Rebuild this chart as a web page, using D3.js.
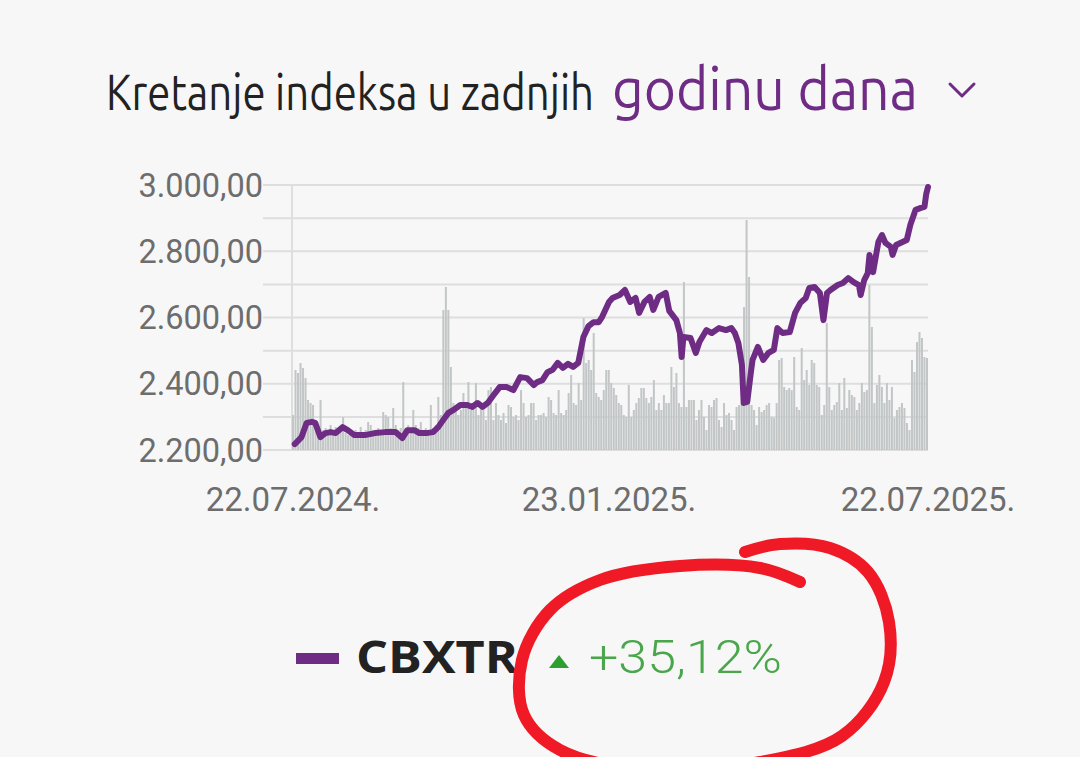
<!DOCTYPE html>
<html><head><meta charset="utf-8">
<script src="https://cdn.jsdelivr.net/npm/d3@7"></script>
<style>html,body{margin:0;padding:0;background:#f7f7f7;} svg{display:block}</style>
</head><body>
<svg id="c" width="1080" height="757"></svg>
<script>
// ---- data ----
const dates = ["2024-07-23","2024-07-27","2024-07-30","2024-08-02","2024-08-04","2024-08-07","2024-08-10","2024-08-13","2024-08-16","2024-08-20","2024-08-23","2024-08-27","2024-09-02","2024-09-08","2024-09-14","2024-09-20","2024-09-24","2024-09-27","2024-10-01","2024-10-04","2024-10-08","2024-10-12","2024-10-15","2024-10-18","2024-10-21","2024-10-24","2024-10-28","2024-11-01","2024-11-04","2024-11-07","2024-11-10","2024-11-13","2024-11-16","2024-11-20","2024-11-24","2024-11-28","2024-12-02","2024-12-06","2024-12-10","2024-12-12","2024-12-15","2024-12-18","2024-12-21","2024-12-24","2024-12-27","2024-12-30","2025-01-02","2025-01-05","2025-01-08","2025-01-11","2025-01-14","2025-01-17","2025-01-19","2025-01-23","2025-01-25","2025-01-29","2025-02-01","2025-02-04","2025-02-07","2025-02-09","2025-02-12","2025-02-15","2025-02-17","2025-02-20","2025-02-24","2025-02-26","2025-03-02","2025-03-04","2025-03-05","2025-03-06","2025-03-10","2025-03-13","2025-03-15","2025-03-19","2025-03-22","2025-03-26","2025-03-30","2025-04-02","2025-04-04","2025-04-06","2025-04-08","2025-04-09","2025-04-11","2025-04-13","2025-04-14","2025-04-17","2025-04-20","2025-04-23","2025-04-26","2025-04-28","2025-05-01","2025-05-05","2025-05-08","2025-05-11","2025-05-14","2025-05-16","2025-05-19","2025-05-22","2025-05-24","2025-05-26","2025-05-28","2025-06-01","2025-06-04","2025-06-07","2025-06-10","2025-06-13","2025-06-14","2025-06-16","2025-06-18","2025-06-19","2025-06-21","2025-06-24","2025-06-26","2025-06-28","2025-07-01","2025-07-02","2025-07-04","2025-07-10","2025-07-12","2025-07-15","2025-07-18","2025-07-20","2025-07-21","2025-07-22"];
const values = [2218,2239,2282,2285,2282,2239,2251,2254,2251,2269,2260,2245,2245,2251,2254,2254,2236,2260,2260,2251,2251,2254,2269,2291,2312,2321,2336,2336,2330,2342,2330,2342,2363,2390,2390,2381,2420,2417,2396,2405,2411,2435,2442,2463,2448,2460,2451,2463,2541,2574,2586,2586,2602,2647,2659,2668,2683,2647,2659,2614,2647,2662,2623,2662,2674,2620,2592,2553,2481,2541,2538,2493,2526,2562,2553,2568,2562,2568,2553,2523,2457,2342,2345,2432,2472,2511,2472,2493,2502,2568,2553,2556,2614,2644,2659,2689,2692,2674,2592,2674,2683,2698,2704,2719,2707,2698,2668,2713,2734,2789,2737,2828,2849,2825,2813,2789,2819,2834,2879,2925,2931,2934,2973,2994];
const volumes = [35,80,77,87,82,72,50,47,45,28,22,50,20,22,18,25,20,23,18,20,33,17,15,18,17,20,16,23,18,20,28,25,20,18,22,20,38,35,33,22,42,25,20,22,68,22,25,20,40,25,22,28,20,22,18,45,22,25,53,35,140,163,140,83,47,40,35,40,57,43,68,40,47,67,35,45,40,30,60,63,30,47,35,30,37,27,45,43,33,35,30,60,47,33,35,47,47,30,35,35,37,33,53,50,37,35,60,37,35,40,57,75,47,45,67,50,132,87,90,80,117,57,53,50,60,80,80,67,62,55,47,45,35,33,65,33,40,47,52,62,62,52,47,53,70,40,47,40,55,47,47,83,63,77,47,43,168,43,50,50,50,30,40,50,33,20,45,43,50,52,30,23,47,35,37,30,20,43,45,47,143,230,173,45,40,25,43,38,40,45,47,33,32,47,90,92,63,60,62,60,93,43,40,102,70,80,65,90,87,65,63,35,45,127,63,40,45,48,67,40,72,42,60,55,53,40,47,67,58,60,165,123,47,65,75,63,47,67,50,63,32,40,43,47,42,27,20,90,78,108,118,112,93,92];
const yLabelTicks = [2200,2400,2600,2800,3000];
const yGridTicks = [2200,2300,2400,2500,2600,2700,2800,2900,3000];
const xTickDates = ["2024-07-22","2025-01-23","2025-07-22"];
const xTickLabels = ["22.07.2024.","23.01.2025.","22.07.2025."];
const titleStart = "Kretanje indeksa u zadnjih";
const titlePeriod = "godinu dana";
const seriesName = "CBXTR";
const changeLabel = "+35,12%";

// ---- drawing ----
(function(){
const purple = "#6f2c84";
const svg = d3.select("#c");
const parse = d3.timeParse("%Y-%m-%d");
const pts = dates.map((d,i)=>({date:parse(d), v:values[i]}));

const pL = 292, pR = 928, pT = 185, pB = 450;
const x = d3.scaleTime()
  .domain(xTickDates.map(parse))
  .range([293, 609, 928]);
const y = d3.scaleLinear().domain([2200,3000]).range([pB, pT]);
const xb = d3.scaleBand().domain(d3.range(volumes.length)).range([pL, pR]).paddingInner(0.2);
const yv = d3.scaleLinear().domain([0,265]).range([pB, pT]);

const loc = d3.formatLocale({decimal:",", thousands:".", grouping:[3], currency:["",""]});
const fmt = loc.format(",.2f");

// text fitted to a width by horizontal scaling (keeps real bbox accurate)
function fitText(str, x0, y0, width, attrs){
  const el = svg.append("text").attr("x",0).attr("y",0).text(str);
  Object.entries(attrs).forEach(([k,v])=>el.attr(k,v));
  const w = el.node().getComputedTextLength();
  const sx = w > 0 ? width / w : 1;
  el.attr("transform", `translate(${x0},${y0}) scale(${sx},1)`);
  return el;
}

// title
const tf = "Ubuntu, 'Liberation Sans Narrow', 'DejaVu Sans Condensed', 'Noto Sans', sans-serif";
fitText(titleStart, 106, 110, 488, {"font-family":tf, "font-size":50, "fill":"#222"});
fitText(titlePeriod, 612, 110, 306, {"font-family":tf, "font-size":60, "fill":purple});
svg.append("path").attr("d","M950,84 L962,96 L974,84").attr("fill","none")
  .attr("stroke",purple).attr("stroke-width",3).attr("stroke-linecap","round").attr("stroke-linejoin","round");

// gridlines
svg.append("g").selectAll("line").data(yGridTicks).join("line")
  .attr("x1",263).attr("x2",pR).attr("y1",d=>y(d)).attr("y2",d=>y(d))
  .attr("stroke","#dedede").attr("stroke-width",2);
svg.append("line").attr("x1",pL).attr("x2",pL).attr("y1",pT).attr("y2",pB)
  .attr("stroke","#dedede").attr("stroke-width",2);

// y labels
svg.append("g").selectAll("text").data(yLabelTicks).join("text")
  .attr("x",263).attr("y",d=>y(d)).attr("dy","0.36em").attr("text-anchor","end")
  .attr("font-family","Roboto, sans-serif").attr("font-size",32.5).attr("fill","#6d6d6d")
  .text(d=>fmt(d));

// x labels
svg.append("g").selectAll("text").data(xTickDates).join("text")
  .attr("x",d=>x(parse(d))).attr("y",511).attr("text-anchor","middle")
  .attr("font-family","Roboto, sans-serif").attr("font-size",33).attr("fill","#6d6d6d")
  .text((d,i)=>xTickLabels[i]);

// volume bars
svg.append("g").selectAll("rect").data(volumes).join("rect")
  .attr("x",(d,i)=>xb(i)).attr("width",xb.bandwidth())
  .attr("y",d=>yv(d)).attr("height",d=>pB-yv(d))
  .attr("fill","#c2c6c6");

// line
svg.append("path").datum(pts)
  .attr("d", d3.line().x(d=>x(d.date)).y(d=>y(d.v)))
  .attr("fill","none").attr("stroke",purple).attr("stroke-width",6)
  .attr("stroke-linejoin","round").attr("stroke-linecap","round");

// legend
svg.append("rect").attr("x",296).attr("y",653).attr("width",43).attr("height",11).attr("fill",purple);
fitText(seriesName, 356, 673, 162, {"font-family":"'Open Sans', Ubuntu, sans-serif", "font-weight":700, "font-size":44, "fill":"#222"});
svg.append("path").attr("d","M549,668 L559,655 L569,668 Z").attr("fill","#2e9e2e");
fitText(changeLabel, 589, 673, 193, {"font-family":"Roboto, sans-serif", "font-weight":300, "font-size":46, "fill":"#4aa64a"});

// hand-drawn red ring annotation
const ring = [[800,582],[760,568],[680,566],[600,580],[550,610],[522,660],[524,715],[560,750],[650,770],[760,762],[842,736],[884,682],[889,622],[868,572],[830,548],[780,544],[745,552]];
svg.append("path").attr("d", d3.line().curve(d3.curveCatmullRom)(ring))
  .attr("fill","none").attr("stroke","#ef1a26").attr("stroke-width",12).attr("stroke-linecap","round");
})();
</script>
</body></html>
